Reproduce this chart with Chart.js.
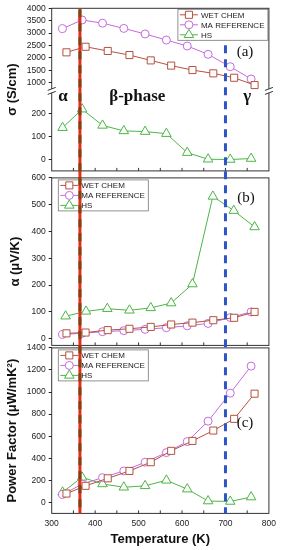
<!DOCTYPE html>
<html>
<head>
<meta charset="utf-8">
<script src="https://cdn.jsdelivr.net/npm/chart.js@4.4.0/dist/chart.umd.min.js"></script>
<style>
  body { margin: 0; background: #fff; }
  #myChart { display: block; }
</style>
</head>
<body>
<canvas id="myChart" width="281" height="550"></canvas>
<script>
//temperatures (K) for each series
const tempWet = [334, 378, 429, 479, 528, 575, 624, 672, 720, 767];
const tempMA = [325, 370, 417, 466, 515, 564, 612, 660, 711, 759];
const tempHS = [325, 370, 417, 466, 515, 564, 612, 660, 711, 759];
const tempHSb = [332, 379, 428, 479, 528, 575, 624, 671, 719, 767];

//(a) electrical conductivity, S/cm
const sigmaWet = [2225, 2450, 2280, 2115, 1900, 1690, 1510, 1377, 1200, 905];
const sigmaMA = [3180, 3530, 3400, 3190, 2965, 2720, 2480, 2145, 1645, 1150];
const sigmaHS = [139, 220, 149, 125, 122, 113, 30, 1, 0, 4];

//(b) seebeck coefficient, uV/K
const seebeckWet = [20, 23, 32, 37, 44, 53, 60, 69, 78, 100];
const seebeckMA = [16, 20, 26, 30, 35, 41, 48, 57, 79, 100];
const seebeckHS = [84, 102, 112, 106, 115, 133, 204, 531, 478, 417];

//(c) power factor, uW/mK^2
const pfWet = [80, 150, 218, 285, 364, 467, 557, 651, 757, 985];
const pfMA = [72, 165, 224, 285, 364, 451, 551, 736, 990, 1235];
const pfHS = [92, 227, 167, 137, 150, 200, 120, 12, 8, 48];

const seriesNames = ["WET CHEM", "MA REFERENCE", "HS"];
const xTicks = [300, 400, 500, 600, 700, 800];
const sigmaHighTicks = [1000, 1500, 2000, 2500, 3000, 3500, 4000];
const sigmaLowTicks = [0, 100, 200];
const seebeckTicks = [0, 100, 200, 300, 400, 500, 600];
const pfTicks = [0, 200, 400, 600, 800, 1000, 1200, 1400];
const phaseLines = [365, 700];

const colWet = "#b3523e";
const colMA = "#c46ae0";
const colHS = "#4cb545";
const tickFont = { family: "'Liberation Sans', Arial, sans-serif", size: 8.5 };
const axisWidth = 51.7;

function pts(xs, ys) {
  return xs.map((x, i) => ({ x: x, y: ys[i] }));
}

function series(name, xs, ys, axis, color, shape, r) {
  return {
    label: name,
    data: pts(xs, ys),
    yAxisID: axis,
    borderColor: color,
    borderWidth: 1,
    pointStyle: shape,
    pointRadius: r,
    pointBorderColor: color,
    pointBackgroundColor: "#fff",
    pointBorderWidth: 1,
    tension: 0,
  };
}

function yAxis(min, max, weight, order, ticks) {
  return {
    type: "linear",
    position: "left",
    stack: "panels",
    stackWeight: weight,
    weight: order,
    min: min,
    max: max,
    afterBuildTicks: (s) => {
      s.ticks = ticks.map((v) => ({ value: v }));
    },
    afterFit: (s) => {
      s.width = axisWidth;
    },
    ticks: { font: tickFont, color: "#222", padding: 3, autoSkip: false, callback: (v) => String(v) },
    grid: { drawOnChartArea: false, tickLength: 3, color: "#222" },
    border: { display: false },
  };
}

//empty axis used as a gap between panels
function spacer(weight, order) {
  return {
    type: "linear",
    position: "left",
    stack: "panels",
    stackWeight: weight,
    weight: order,
    afterFit: (s) => {
      s.width = axisWidth;
    },
    ticks: { display: false },
    grid: { display: false },
    border: { display: false },
  };
}

function drawMarker(ctx, shape, x, y, r) {
  ctx.beginPath();
  if (shape === "rect") {
    const h = r * Math.SQRT1_2;
    ctx.rect(x - h, y - h, 2 * h, 2 * h);
  } else if (shape === "circle") {
    ctx.arc(x, y, r, 0, Math.PI * 2);
  } else {
    ctx.moveTo(x, y - r);
    ctx.lineTo(x + r * 0.866, y + r / 2);
    ctx.lineTo(x - r * 0.866, y + r / 2);
    ctx.closePath();
  }
  ctx.fill();
  ctx.stroke();
}

function drawLegend(ctx, sets, left, top) {
  ctx.fillStyle = "#fff";
  ctx.fillRect(left, top, 90, 31);
  ctx.strokeStyle = "#777";
  ctx.lineWidth = 0.8;
  ctx.strokeRect(left, top, 90, 31);
  ctx.font = "8px 'Liberation Sans', Arial, sans-serif";
  ctx.textBaseline = "middle";
  ctx.textAlign = "left";
  sets.forEach((ds, i) => {
    const y = top + 5.5 + i * 10;
    ctx.strokeStyle = ds.borderColor;
    ctx.lineWidth = 1;
    ctx.beginPath();
    ctx.moveTo(left + 2, y);
    ctx.lineTo(left + 20, y);
    ctx.stroke();
    ctx.fillStyle = "#fff";
    drawMarker(ctx, ds.pointStyle, left + 11, y, ds.pointRadius);
    ctx.fillStyle = "#222";
    ctx.fillText(ds.label, left + 23, y + 0.5);
  });
}

function vTitle(ctx, text, x, y) {
  ctx.save();
  ctx.translate(x, y);
  ctx.rotate(-Math.PI / 2);
  ctx.fillText(text, 0, 0);
  ctx.restore();
}

//frames, legends, break marks, phase lines and labels
const decor = {
  id: "decor",
  afterDatasetsDraw(chart) {
    const ctx = chart.ctx;
    const area = chart.chartArea;
    const s = chart.scales;
    const ds = chart.data.datasets;
    const panels = [
      { top: s.yA1.top, bottom: s.yA2.bottom },
      { top: s.yB.top, bottom: s.yB.bottom },
      { top: s.yC.top, bottom: s.yC.bottom },
    ];
    ctx.save();

    //legends
    drawLegend(ctx, ds.slice(0, 3), area.right - 91, panels[0].top + 1);
    drawLegend(ctx, ds.slice(3, 6), area.left + 6.6, panels[1].top + 2);
    drawLegend(ctx, ds.slice(6, 9), area.left + 6.6, panels[2].top + 2);

    //frames
    ctx.strokeStyle = "#333";
    ctx.lineWidth = 1;
    panels.forEach((p) => {
      ctx.strokeRect(area.left, p.top, area.right - area.left, p.bottom - p.top);
      ctx.beginPath();
      for (let i = 0; i < xTicks.length; i++) {
        [xTicks[i], xTicks[i] + 50].forEach((t) => {
          if (t <= xTicks[0] || t >= xTicks[xTicks.length - 1]) return;
          const px = s.x.getPixelForValue(t);
          ctx.moveTo(px, p.bottom);
          ctx.lineTo(px, p.bottom - 3);
        });
      }
      ctx.stroke();
    });

    //axis break in panel (a)
    const yb = s.yA1.bottom;
    [area.left, area.right].forEach((bx) => {
      ctx.fillStyle = "#fff";
      ctx.fillRect(bx - 1.5, yb - 2, 3, 4);
      ctx.strokeStyle = "#333";
      ctx.beginPath();
      ctx.moveTo(bx - 4, yb - 0.5);
      ctx.lineTo(bx + 4, yb - 3.5);
      ctx.moveTo(bx - 4, yb + 3.5);
      ctx.lineTo(bx + 4, yb + 0.5);
      ctx.stroke();
    });

    //phase boundaries: red under brown dashes, then blue dashes
    const xr = s.x.getPixelForValue(phaseLines[0]);
    ctx.lineWidth = 3;
    ctx.strokeStyle = "#e62a1e";
    ctx.beginPath();
    ctx.moveTo(xr, area.top + 1);
    ctx.lineTo(xr, area.bottom);
    ctx.stroke();
    ctx.setLineDash([8, 6]);
    ctx.strokeStyle = "#7b4414";
    ctx.beginPath();
    ctx.moveTo(xr, area.top + 1);
    ctx.lineTo(xr, area.bottom);
    ctx.stroke();
    const xb = s.x.getPixelForValue(phaseLines[1]);
    ctx.setLineDash([8, 6]);
    ctx.strokeStyle = "#2f55c4";
    ctx.beginPath();
    ctx.moveTo(xb, panels[0].top + 37);
    ctx.lineTo(xb, area.bottom);
    ctx.stroke();
    ctx.setLineDash([]);

    //phase names
    ctx.fillStyle = "#111";
    ctx.textAlign = "center";
    ctx.textBaseline = "middle";
    ctx.font = "bold 17px 'Liberation Serif', 'Times New Roman', serif";
    const yPhase = yb + 6;
    ctx.fillText("α", s.x.getPixelForValue(326), yPhase);
    ctx.fillText("β-phase", s.x.getPixelForValue(497), yPhase);
    ctx.fillText("γ", s.x.getPixelForValue(750), yPhase);

    //panel letters
    ctx.font = "15px 'Liberation Serif', 'Times New Roman', serif";
    ctx.fillText("(a)", s.x.getPixelForValue(745), s.yA1.getPixelForValue(2240));
    ctx.fillText("(b)", s.x.getPixelForValue(747), s.yB.getPixelForValue(525));
    ctx.fillText("(c)", s.x.getPixelForValue(745), s.yC.getPixelForValue(722));

    //axis titles
    ctx.font = "bold 13px 'Liberation Sans', Arial, sans-serif";
    vTitle(ctx, "σ (S/cm)", 12, (panels[0].top + panels[0].bottom) / 2);
    vTitle(ctx, "α (μV/K)", 15, (panels[1].top + panels[1].bottom) / 2);
    vTitle(ctx, "Power Factor (μW/mK²)", 12, (panels[2].top + panels[2].bottom) / 2);
    ctx.fillText("Temperature (K)", (area.left + area.right) / 2, 539);

    ctx.restore();
  },
};

const ctx = document.getElementById("myChart");
const myChart = new Chart(ctx, {
  type: "line",
  data: {
    datasets: [
      series(seriesNames[0], tempWet, sigmaWet, "yA1", colWet, "rect", 5),
      series(seriesNames[1], tempMA, sigmaMA, "yA1", colMA, "circle", 4),
      series(seriesNames[2], tempHS, sigmaHS, "yA2", colHS, "triangle", 5.5),
      series(seriesNames[0], tempWet, seebeckWet, "yB", colWet, "rect", 5),
      series(seriesNames[1], tempMA, seebeckMA, "yB", colMA, "circle", 4),
      series(seriesNames[2], tempHSb, seebeckHS, "yB", colHS, "triangle", 5.5),
      series(seriesNames[0], tempWet, pfWet, "yC", colWet, "rect", 5),
      series(seriesNames[1], tempMA, pfMA, "yC", colMA, "circle", 4),
      series(seriesNames[2], tempHS, pfHS, "yC", colHS, "triangle", 5.5),
    ],
  },
  options: {
    responsive: false,
    animation: false,
    events: [],
    layout: { padding: { left: 0, top: 8.3, right: 8.3, bottom: 0 } },
    scales: {
      x: {
        type: "linear",
        position: "bottom",
        min: 300,
        max: 800,
        afterBuildTicks: (s) => {
          s.ticks = xTicks.map((v) => ({ value: v }));
        },
        afterFit: (s) => {
          s.height = 36.6;
        },
        ticks: { font: tickFont, color: "#222", padding: 5, autoSkip: false, callback: (v) => String(v) },
        grid: { display: false, drawTicks: false },
        border: { display: false },
      },
      //stacked panels, listed bottom to top
      yC: yAxis(-100, 1400, 165.5, 1, pfTicks),
      gap2: spacer(2.5, 2),
      yB: yAxis(-25, 600, 167.5, 3, seebeckTicks),
      gap1: spacer(7, 4),
      yA2: yAxis(-50, 300, 80, 5, sigmaLowTicks),
      yA1: yAxis(670, 4000, 82.6, 6, sigmaHighTicks),
    },
    plugins: {
      legend: { display: false },
      tooltip: { enabled: false },
    },
  },
  plugins: [decor],
});
</script>
</body>
</html>
